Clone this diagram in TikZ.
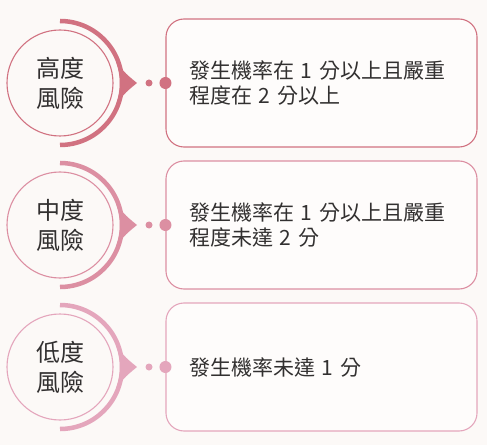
\documentclass[tikz,border=0pt]{standalone}
\usepackage{fontspec}
\setmainfont{Noto Sans CJK TC}
\usetikzlibrary{calc}

\definecolor{pagebg}{RGB}{252,249,247}
\definecolor{boxbg}{RGB}{254,252,251}
\definecolor{textgray}{RGB}{50,48,48}
\definecolor{riskhigh}{RGB}{209,114,129}
\definecolor{riskmid}{RGB}{220,143,162}
\definecolor{risklow}{RGB}{228,166,188}

\begin{document}
\begin{tikzpicture}[x=1pt, y=1pt, line cap=round, line join=round,
    riskcircle/.style={circle, draw, line width=1.1pt, minimum size=106pt, inner sep=0pt,
        align=center, text=textgray, font=\fontsize{24}{30}\selectfont},
    descbox/.style={draw, line width=1.1pt, fill=boxbg, rounded corners=18pt,
        text width=265pt, inner xsep=23pt, inner ysep=0pt, minimum height=128pt,
        align=left, text=textgray, font=\fontsize{21}{24.5}\selectfont},
    riskdot/.style={circle, inner sep=0pt}]

    % --- Background ---
    \fill[pagebg] (0,0) rectangle (487,445);
    \useasboundingbox (0,0) rectangle (487,445);

    % --- Rows: level circle, arc with pointer, dots, description box ---
    \foreach \i/\yc/\col/\lbl/\txt in {
        1/362/riskhigh/{高度\\風險}/{發生機率在 1 分以上且嚴重\\程度在 2 分以上},
        2/220/riskmid/{中度\\風險}/{發生機率在 1 分以上且嚴重\\程度未達 2 分},
        3/78/risklow/{低度\\風險}/{發生機率未達 1 分}} {

        % Level circle
        \node[riskcircle, draw=\col] (risk\i) at (60,\yc) {\lbl};

        % Thick arc on the right side
        \draw[\col, line width=4.5pt, line cap=butt]
            ([shift={(90:62pt)}]risk\i.center) arc[start angle=90, end angle=-90, radius=62pt];

        % Pointer
        \fill[\col] ($(risk\i.center)+(20:60pt)$)
            .. controls ($(risk\i.center)+(66pt,9pt)$) .. ($(risk\i.center)+(77pt,0pt)$)
            .. controls ($(risk\i.center)+(66pt,-9pt)$) .. ($(risk\i.center)+(-20:60pt)$)
            arc[start angle=-20, end angle=20, radius=60pt] -- cycle;

        % Description box
        \node[descbox, draw=\col] (desc\i) at (321.5,\yc) {\txt};

        % Dots
        \node[riskdot, fill=\col, minimum size=7pt] (gap\i) at (149,\yc) {};
        \node[riskdot, fill=\col, minimum size=12pt] (pin\i) at (desc\i.west) {};
    }
\end{tikzpicture}
\end{document}
